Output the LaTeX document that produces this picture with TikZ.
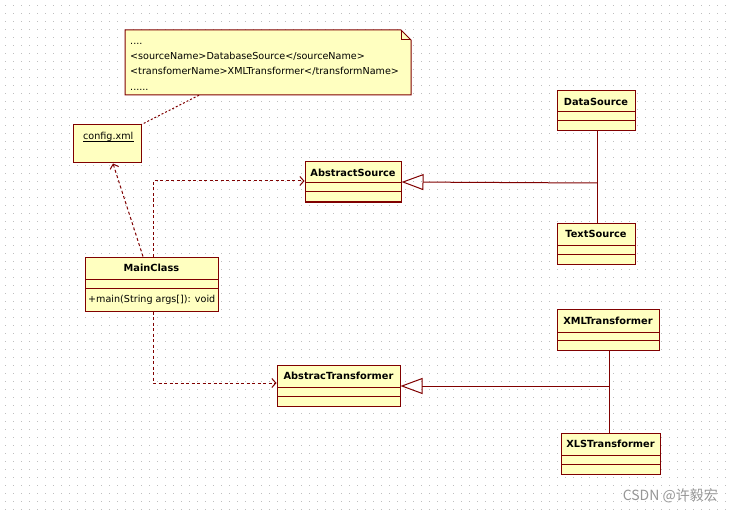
\documentclass[tikz,border=0pt]{standalone}
\usepackage{fontspec}
\setmainfont{DejaVu Sans}
\newfontfamily\cjkfont{Noto Sans CJK SC}
\usetikzlibrary{arrows.meta,fit,calc}
\definecolor{umlred}{RGB}{128,0,0}
\definecolor{umlfill}{RGB}{255,255,192}
\definecolor{gridc}{RGB}{190,190,190}
\definecolor{wmark}{RGB}{150,150,150}
\tikzset{
  x=1pt,y=-1pt,
  clsbox/.style={draw=umlred,fill=umlfill,line width=1pt,inner sep=0pt},
  sepline/.style={draw=umlred,line width=1pt},
  title/.style={font=\bfseries\fontsize{9.8}{11}\selectfont,inner sep=0pt,text=black},
  body/.style={font=\fontsize{9.6}{11}\selectfont,inner sep=0pt,text=black},
  genline/.style={draw=umlred,line width=1pt},
  genarrow/.style={genline,-{Triangle[open,length=22pt,width=16pt,line width=1pt]}},
  depline/.style={draw=umlred,line width=1pt,dash pattern=on 3pt off 2.5pt,
     -{Straight Barb[length=4pt,width=9pt,line width=1pt]}},
  noteline/.style={draw=umlred,line width=1pt,dash pattern=on 2pt off 2pt},
}
\newcommand{\umlcls}[8]{%
  \path (#2,#3) coordinate (#1nw) (#4,#5) coordinate (#1se);
  \node[clsbox,fit=(#1nw)(#1se)] (#1) {};
  \draw[sepline] (#2,#6) -- (#4,#6);
  \draw[sepline] (#2,#7) -- (#4,#7);
  \node[title] (#1t) at ($(#2,#3)!0.5!(#4,#6)$) {#8};
}
\begin{document}
\begin{tikzpicture}
\useasboundingbox (0,0) rectangle (733,513);
\fill[white] (0,0) rectangle (733,513);
% dotted grid
\foreach \i in {0,...,91}{
  \foreach \j in {0,...,63}{
    \fill[gridc] (5+8*\i,5+8*\j) rectangle +(1,1);
  }
}
% note
\path (125,30) coordinate (nnw) (411,95) coordinate (nse);
\node[fit=(nnw)(nse),inner sep=0pt] (note) {};
\filldraw[fill=umlfill,draw=umlred,line width=1pt]
  (125,30) -- (401,30) -- (411,40) -- (411,95) -- (125,95) -- cycle;
\draw[umlred,line width=1pt] (401,30) -- (401,40) -- (411,40);
\node[body,anchor=base west] (n1) at (130,44.5) {....};
\node[body,anchor=base west] (n2) at (130,59.5) {<sourceName>DatabaseSource</sourceName>};
\node[body,anchor=base west] (n3) at (130,75) {<transfomerName>XMLTransformer</transformName>};
\node[body,anchor=base west] (n4) at (130,90.5) {......};
% config.xml
\path (73,125) coordinate (cnw) (141,163) coordinate (cse);
\node[clsbox,fit=(cnw)(cse)] (config) {};
\node[body,anchor=base west] (configt) at (83,140) {config.xml};
\draw[black,line width=0.8pt] ([yshift=-1.5pt]configt.base west) -- ([yshift=-1.5pt]configt.base east);
% classes
\umlcls{AbstractSource}{305}{162}{401}{202}{183}{192}{AbstractSource}
\umlcls{MainClass}{85}{257}{218}{311}{279}{288}{MainClass}
\node[body,anchor=base west] (mainop) at (88,302) {+main(String args[]): void};
\umlcls{DataSource}{557}{91}{635}{131}{112}{121}{DataSource}
\umlcls{TextSource}{557}{223}{635}{264}{245}{254}{TextSource}
\umlcls{AbstracTransformer}{277}{365}{400}{406}{387}{396}{AbstracTransformer}
\umlcls{XMLTransformer}{557}{309}{659}{350}{332}{340}{XMLTransformer}
\umlcls{XLSTransformer}{561}{433}{660}{474}{455}{464}{XLSTransformer}
% generalizations
\coordinate (j1) at (597,183);
\draw[genline] ([xshift=1pt]DataSource.south) -- ([xshift=1pt]DataSource.south |- TextSource.north);
\draw[genarrow] (j1) -- (AbstractSource.east);
\coordinate (j2) at (609,386);
\draw[genline] ([xshift=1pt]XMLTransformer.south) -- ([xshift=1pt]XMLTransformer.south |- XLSTransformer.north);
\draw[genarrow] (j2) -- ([yshift=-0.5pt]AbstracTransformer.east);
% dependencies
\draw[depline] ([xshift=-8.5pt]MainClass.north) -- ([xshift=6pt]config.south);
\draw[depline] ([xshift=1.5pt]MainClass.north) |- ([yshift=1pt]AbstractSource.west);
\draw[depline] ([xshift=1.5pt]MainClass.south) |- ([yshift=2.5pt]AbstracTransformer.west);
% note link
\draw[noteline] ([xshift=-69pt]note.south) -- (config.north east);
% watermark
\node[text=wmark,font=\cjkfont\fontsize{14}{16}\selectfont,anchor=east,inner sep=0pt] (wm) at (718,496) {CSDN @许毅宏};
\end{tikzpicture}
\end{document}
